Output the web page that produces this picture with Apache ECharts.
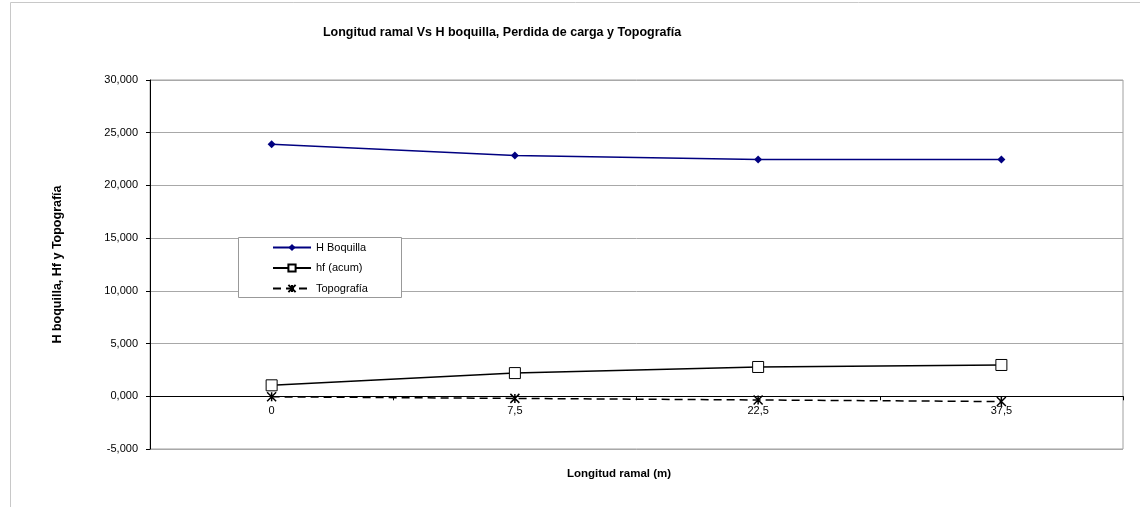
<!DOCTYPE html>
<html>
<head>
<meta charset="utf-8">
<script src="https://cdn.jsdelivr.net/npm/echarts@6/dist/echarts.min.js"></script>
<style>html,body{margin:0;padding:0;background:#fff;}#c{width:1140px;height:507px;}</style>
</head>
<body>
<div id="c"></div>
<script>
const categories = ['0', '7,5', '22,5', '37,5'];
const hBoquilla = [23.9, 22.85, 22.45, 22.45];
const hfAcum = [1.04, 2.2, 2.78, 2.97];
const topografia = [-0.05, -0.2, -0.35, -0.5];

const chart = echarts.init(document.getElementById('c'));
const font = 'Liberation Sans, Arial, sans-serif';
const starPath = 'path://M0,0L10,10M10,0L0,10M5,0L5,10';
const gridTop = 80, gridBottom = 58, plotH = 507 - gridTop - gridBottom;
const yMin = -5, yMax = 30;
const zeroOffset = -plotH * (0 - yMin) / (yMax - yMin);
chart.setOption({
  animation: false,
  textStyle: { fontFamily: font },
  title: [
    { text: 'Longitud ramal Vs H boquilla, Perdida de carga y Topografía', left: 497, top: 21, textAlign: 'center',
      textStyle: { fontSize: 12.5, fontWeight: 'bold', color: '#000', fontFamily: font } },
    { text: 'Longitud ramal (m)', left: 614, top: 463, textAlign: 'center',
      textStyle: { fontSize: 11.5, fontWeight: 'bold', color: '#000', fontFamily: font } },
    { text: 'H boquilla, Hf y Topografía', left: 0, top: 0, show: false }
  ],
  graphic: [
    { type: 'rect', shape: { x: 10.5, y: 2.5, width: 1140, height: 520 }, style: { fill: 'none', stroke: '#c8c8c8', lineWidth: 1 }, silent: true },
    { type: 'rect', shape: { x: 238.5, y: 237.5, width: 163, height: 60 }, style: { fill: '#fff', stroke: '#999', lineWidth: 1 }, silent: true, z: 5 }
  ],
  legend: {
    orient: 'vertical', left: 272, top: 242,
    padding: 0,
    itemGap: 9.5, itemWidth: 38, itemHeight: 9, z: 10,
    textStyle: { fontSize: 11, color: '#000', fontFamily: font },
    data: ['H Boquilla', 'hf (acum)', 'Topografía']
  },
  grid: { left: 150, right: 17, top: gridTop, bottom: gridBottom, show: true, borderColor: '#a0a0a0', borderWidth: 1 },
  xAxis: {
    type: 'category', data: categories, boundaryGap: true,
    position: 'bottom', offset: zeroOffset,
    axisLine: { onZero: false, lineStyle: { color: '#000', width: 1 } },
    axisTick: { show: true, length: 4, lineStyle: { color: '#000' } },
    axisLabel: { color: '#000', fontSize: 11, margin: 9 },
    splitLine: { show: false }
  },
  yAxis: {
    type: 'value', min: yMin, max: yMax, interval: 5,
    name: 'H boquilla, Hf y Topografía', nameLocation: 'middle', nameGap: 86, nameRotate: 90,
    nameTextStyle: { fontSize: 12.5, fontWeight: 'bold', color: '#000', fontFamily: font },
    axisLine: { show: true, lineStyle: { color: '#000', width: 1 } },
    axisTick: { show: true, length: 4, lineStyle: { color: '#000' } },
    axisLabel: { color: '#000', fontSize: 11, margin: 12, formatter: v => v.toFixed(3).replace('.', ',') },
    splitLine: { show: true, lineStyle: { color: '#a8a8a8', width: 1 } }
  },
  series: [
    { name: 'H Boquilla', type: 'line', data: hBoquilla, symbol: 'diamond', symbolSize: 8,
      lineStyle: { color: '#000080', width: 1.5 }, itemStyle: { color: '#000080' } },
    { name: 'hf (acum)', type: 'line', data: hfAcum, symbol: 'rect', symbolSize: 11,
      lineStyle: { color: '#000', width: 1.5 }, itemStyle: { color: '#fff', borderColor: '#000', borderWidth: 1 } },
    { name: 'Topografía', type: 'line', data: topografia, symbol: starPath, symbolSize: 9,
      lineStyle: { color: '#000', width: 1.5, type: [8, 5] }, itemStyle: { color: '#000', borderColor: '#000', borderWidth: 1.5 } }
  ]
});
</script>
</body>
</html>
